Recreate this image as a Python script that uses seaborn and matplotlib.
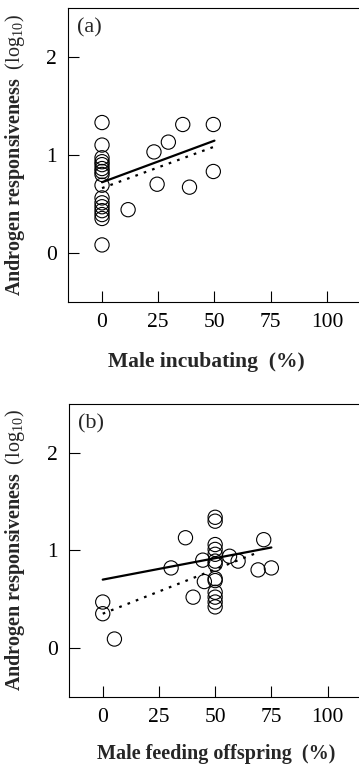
import numpy as np
import pandas as pd
import matplotlib
matplotlib.use("Agg")
import matplotlib.pyplot as plt
import seaborn as sns

# ---- data ----
# Panel (a): male incubating (%) vs androgen responsiveness (log10)
a_x = [0, 0, 0, 0, 0, 0, 0, 0, 0, 0, 0, 0, 0, 0, 0, 0,
       11.6, 23.1, 24.5, 29.5, 35.9, 38.9, 49.5, 49.5]
a_y = [1.33, 1.10, 0.97, 0.93, 0.90, 0.86, 0.83, 0.80, 0.69, 0.56, 0.51, 0.47,
       0.43, 0.39, 0.35, 0.08,
       0.44, 1.03, 0.70, 1.13, 1.31, 0.67, 1.31, 0.83]
a_line_x = [0, 50]
a_solid_y = [0.72, 1.145]
a_dot_x = [0, 49.5]
a_dot_y = [0.66, 1.08]

# Panel (b): male feeding offspring (%) vs androgen responsiveness (log10)
b_x = [0, 0, 5.2, 30.4, 36.8, 40.2, 44.5, 45.2,
       50, 50, 50, 50, 50, 50, 50, 50, 50, 50, 50, 50, 50,
       56.4, 60.2, 69.1, 71.6, 75.0]
b_y = [0.47, 0.35, 0.09, 0.82, 1.13, 0.52, 0.90, 0.68,
       1.34, 1.30, 1.06, 1.01, 0.96, 0.89, 0.86, 0.71, 0.69, 0.57, 0.52, 0.47, 0.42,
       0.94, 0.89, 0.80, 1.11, 0.82]
b_line_x = [0, 75]
b_solid_y = [0.70, 1.03]
b_dot_x = [0, 68]
b_dot_y = [0.35, 0.97]

x_ticks = [0, 25, 50, 75, 100]
y_ticks = [0, 1, 2]
panel_labels = ["(a)", "(b)"]
x_labels = ["Male incubating  (%)", "Male feeding offspring  (%)"]
y_label = r"$\mathbf{Androgen\ responsiveness}\ \ (\mathrm{log}_{10})$"

# ---- style ----
sns.set_style("ticks")
plt.rcParams["font.family"] = ["Liberation Serif", "DejaVu Serif"]
plt.rcParams["mathtext.fontset"] = "custom"
plt.rcParams["mathtext.rm"] = "Liberation Serif"
plt.rcParams["mathtext.it"] = "Liberation Serif:italic"
plt.rcParams["mathtext.bf"] = "Liberation Serif:bold"

W, H = 359, 765
fig = plt.figure(figsize=(W / 100, H / 100), dpi=100)

def px_axes(left, top, right, bottom):
    return fig.add_axes([left / W, 1 - bottom / H, (right - left) / W, (bottom - top) / H])

ax_a = px_axes(68.3, 8, 360.6, 301.7)
ax_b = px_axes(69.0, 404.3, 361.3, 696.5)

panels = [
    (ax_a, a_x, a_y, a_line_x, a_solid_y, a_dot_x, a_dot_y, 0.472, -0.172, 15.5),
    (ax_b, b_x, b_y, b_line_x, b_solid_y, b_dot_x, b_dot_y, 0.503, -0.163, 14.5),
]

for i, (ax, xs, ys, lx, sy, dx, dy, xl_x, xl_y, xl_fs) in enumerate(panels):
    df = pd.DataFrame({"x": xs, "y": ys})
    sns.scatterplot(data=df, x="x", y="y", ax=ax, marker="o", s=105,
                    facecolors="none", edgecolors="black", linewidth=0.8,
                    zorder=3)
    sns.lineplot(x=lx, y=sy, ax=ax, color="black", linewidth=1.6, zorder=4)
    sns.lineplot(x=dx, y=dy, ax=ax, color="black", linewidth=1.6,
                 linestyle=(0, (1.2, 2.8)), zorder=4)
    ax.set_xlim(-15, 115)
    ax.set_ylim(-0.5, 2.5)
    ax.set_xticks(x_ticks)
    ax.set_yticks(y_ticks)
    ax.tick_params(direction="in", length=8, width=0.8, labelsize=15.5,
                   pad=8, colors="black")
    for sp in ax.spines.values():
        sp.set_linewidth(0.8)
        sp.set_color("black")
    ax.set_xlabel(x_labels[i], fontsize=xl_fs, fontweight="bold")
    ax.xaxis.set_label_coords(xl_x, xl_y)
    ax.set_ylabel(y_label, fontsize=14.5)
    ax.yaxis.set_label_coords(-0.142, 0.50)
    ax.text(0.03, 0.965, panel_labels[i], transform=ax.transAxes,
            fontsize=16, va="top", ha="left")

fig.savefig("out.png", dpi=100)
